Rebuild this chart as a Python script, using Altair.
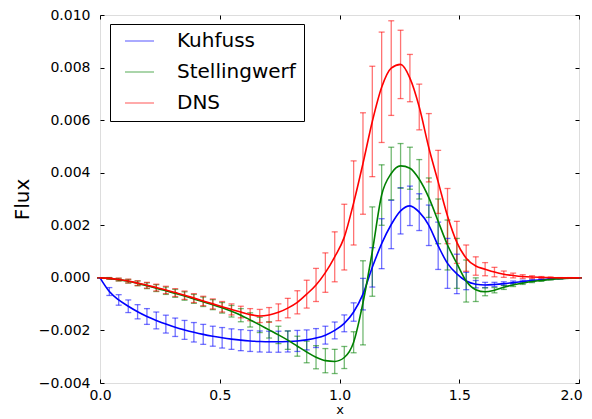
import altair as alt
import pandas as pd

# x positions of the samples (read from the error-bar positions)
x_vals = [0.0, 0.039, 0.078, 0.118, 0.157, 0.196, 0.235, 0.275, 0.314, 0.353,
          0.392, 0.431, 0.471, 0.510, 0.549, 0.588, 0.627, 0.667, 0.706, 0.745,
          0.784, 0.824, 0.863, 0.902, 0.941, 0.980, 1.020, 1.059, 1.098, 1.137,
          1.176, 1.216, 1.255, 1.294, 1.333, 1.373, 1.412, 1.451, 1.490, 1.529,
          1.569, 1.608, 1.647, 1.686, 1.725, 1.765, 1.804, 1.843, 1.882, 1.922,
          1.961, 2.0]

# values in units of 1e-3
kuhfuss = [0, -0.52, -0.84, -1.08, -1.29, -1.47, -1.62, -1.76, -1.88, -1.98,
           -2.07, -2.15, -2.22, -2.28, -2.33, -2.37, -2.40, -2.42, -2.43, -2.43,
           -2.42, -2.40, -2.36, -2.29, -2.18, -2.00, -1.73, -1.30, -0.62, 0.40,
           1.30, 2.03, 2.55, 2.74, 2.50, 2.00, 1.22, 0.55, 0.15, -0.12,
           -0.24, -0.27, -0.25, -0.22, -0.18, -0.14, -0.10, -0.07, -0.04, -0.02,
           -0.01, 0]
kuhfuss_err = [0, 0.15, 0.20, 0.24, 0.27, 0.30, 0.32, 0.34, 0.35, 0.36,
               0.37, 0.38, 0.38, 0.39, 0.39, 0.40, 0.40, 0.40, 0.40, 0.40,
               0.40, 0.40, 0.38, 0.36, 0.34, 0.32, 0.32, 0.35, 0.60, 0.75,
               0.95, 0.92, 0.88, 0.75, 0.70, 0.77, 0.90, 0.95, 0.75, 0.33,
               0.14, 0.10, 0.08, 0.07, 0.06, 0.05, 0.04, 0.03, 0.02, 0.01,
               0.01, 0]

stelling = [0, -0.02, -0.07, -0.13, -0.21, -0.30, -0.39, -0.49, -0.59, -0.69,
            -0.80, -0.91, -1.02, -1.14, -1.27, -1.42, -1.60, -1.79, -1.98, -2.17,
            -2.37, -2.60, -2.82, -3.02, -3.15, -3.18, -3.03, -2.45, -0.95, 1.00,
            3.15, 3.97, 4.26, 4.17, 3.75, 3.05, 2.15, 1.25, 0.55, -0.12,
            -0.45, -0.53, -0.47, -0.36, -0.27, -0.20, -0.14, -0.10, -0.06, -0.03,
            -0.01, 0]
stelling_err = [0, 0.03, 0.05, 0.07, 0.09, 0.11, 0.13, 0.14, 0.15, 0.16,
                0.17, 0.18, 0.19, 0.20, 0.22, 0.25, 0.27, 0.29, 0.31, 0.33,
                0.35, 0.38, 0.41, 0.44, 0.46, 0.46, 0.42, 0.40, 1.60, 1.70,
                1.15, 1.00, 0.85, 0.80, 0.75, 0.75, 0.85, 0.95, 0.95, 0.80,
                0.45, 0.15, 0.10, 0.08, 0.06, 0.05, 0.04, 0.03, 0.02, 0.01,
                0.01, 0]

dns = [0, -0.02, -0.06, -0.12, -0.20, -0.28, -0.37, -0.46, -0.56, -0.66,
       -0.77, -0.88, -0.99, -1.10, -1.20, -1.30, -1.40, -1.45, -1.41, -1.31,
       -1.15, -0.93, -0.62, -0.27, 0.20, 0.80, 1.55, 2.85, 4.35, 5.95,
       7.25, 7.98, 8.12, 7.60, 6.50, 4.95, 3.65, 2.35, 1.35, 0.75,
       0.45, 0.33, 0.22, 0.14, 0.09, 0.05, 0.03, 0.02, 0.01, 0,
       0, 0]
dns_err = [0, 0.03, 0.05, 0.07, 0.09, 0.11, 0.13, 0.14, 0.15, 0.16,
           0.17, 0.18, 0.19, 0.20, 0.21, 0.22, 0.23, 0.25, 0.28, 0.32,
           0.37, 0.44, 0.53, 0.63, 0.75, 0.95, 1.25, 1.60, 1.93, 2.10,
           2.10, 1.80, 1.30, 0.90, 0.87, 1.30, 1.20, 1.05, 0.80, 0.50,
           0.35, 0.25, 0.18, 0.12, 0.09, 0.07, 0.05, 0.03, 0.02, 0.01,
           0.01, 0]

series_names = ["Kuhfuss", "Stellingwerf", "DNS"]
series_colors = ["#0000ff", "#008000", "#ff0000"]

x_ticks = [0, 0.5, 1.0, 1.5, 2.0]
y_ticks = [-0.004, -0.002, 0, 0.002, 0.004, 0.006, 0.008, 0.010]

rows = []
for name, ys, es in [("Kuhfuss", kuhfuss, kuhfuss_err),
                     ("Stellingwerf", stelling, stelling_err),
                     ("DNS", dns, dns_err)]:
    for xv, yv, ev in zip(x_vals, ys, es):
        rows.append({"x": xv, "series": name, "y": yv * 1e-3,
                     "lo": (yv - ev) * 1e-3, "hi": (yv + ev) * 1e-3})
df = pd.DataFrame(rows)

FONT = "DejaVu Sans"
xs = alt.Scale(domain=[0, 2], nice=False, zero=False)
ys_ = alt.Scale(domain=[-0.004, 0.010], nice=False, zero=False)
cs = alt.Scale(domain=series_names, range=series_colors)

x_main = alt.Axis(orient="bottom", values=x_ticks, format=".1f", labelFlush=False,
                  labelOffset={"condition": {"test": "datum.value >= 2", "value": -8}, "value": 0},
                  offset=-4, tickSize=4, tickColor="black", domain=False, grid=False,
                  labelFont=FONT, labelFontSize=14, labelColor="black", labelPadding=5,
                  title="x", titleFont=FONT, titleFontSize=13, titleFontWeight="normal",
                  titleColor="black", titlePadding=1)
y_main = alt.Axis(orient="left", values=y_ticks, labelFlush=False,
                  format=".3f", offset=-4, tickSize=4, tickColor="black", domain=False, grid=False,
                  labelFont=FONT, labelFontSize=14, labelColor="black", labelPadding=10,
                  title="Flux", titleFont=FONT, titleFontSize=20, titleFontWeight="normal",
                  titleColor="black", titlePadding=6)
x_top = alt.Axis(orient="top", values=x_ticks, offset=-4, tickSize=4,
                 tickColor="black", domain=False, grid=False, labels=False, title=None)
y_right = alt.Axis(orient="right", values=y_ticks,
                   offset=-4, tickSize=4, tickColor="black", domain=False, grid=False,
                   labels=False, title=None)

legend = alt.Legend(orient="none", legendX=10, legendY=9, title=None,
                    strokeColor="black", fillColor="white", padding=8,
                    symbolType="stroke", symbolSize=841, symbolStrokeWidth=1.2,
                    labelFont=FONT, labelFontSize=20, labelColor="black",
                    clipHeight=18, rowPadding=11, labelOffset=22, symbolOffset=6,
                    cornerRadius=0)

color_enc = alt.Color("series:N", scale=cs, legend=legend, sort=series_names)

base = alt.Chart(df)

bars = base.mark_rule(strokeWidth=1.3, opacity=0.55).encode(
    x=alt.X("x:Q", scale=xs, axis=x_main),
    y=alt.Y("lo:Q", scale=ys_, axis=y_main),
    y2="hi:Q",
    color=color_enc,
)

caps = base.transform_fold(["lo", "hi"], as_=["end", "v"]).mark_tick(
    orient="horizontal", size=6, thickness=1.3, opacity=0.55).encode(
    x=alt.X("x:Q", scale=xs, axis=None),
    y=alt.Y("v:Q", scale=ys_, axis=None),
    color=color_enc,
)

lines = base.mark_line(strokeWidth=1.6, interpolate="monotone").encode(
    x=alt.X("x:Q", scale=xs, axis=x_top),
    y=alt.Y("y:Q", scale=ys_, axis=y_right),
    color=color_enc,
    detail="series:N",
)

chart = alt.layer(bars, caps, lines).resolve_axis(x="independent", y="independent").properties(
    width=479, height=368,
    autosize=alt.AutoSizeParams(type="none"),
    padding={"left": 92, "top": 7, "right": 5, "bottom": 35},
).configure_view(stroke="black", strokeWidth=1.2).configure(font=FONT)

chart.save("out.html", embed_options={"renderer": "svg", "actions": False})
